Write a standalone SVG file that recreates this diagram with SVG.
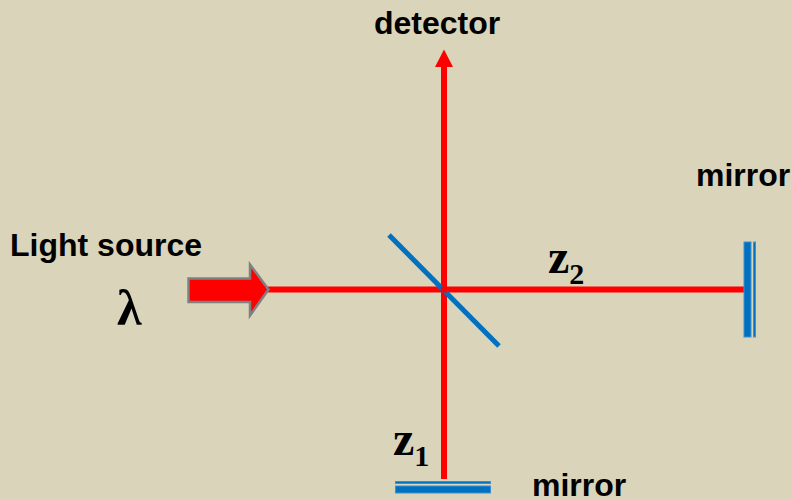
<svg xmlns="http://www.w3.org/2000/svg" width="791" height="499" viewBox="0 0 791 499">
<style>
.lbl{font-family:"Liberation Sans",Arial,sans-serif;font-weight:bold;font-size:32px;fill:#000}
.z{font-family:"Liberation Serif","Times New Roman",serif;font-weight:bold;font-size:48px;fill:#000}
.sub{font-size:30px}
.blue{fill:#0070c0;stroke:#3f8fd0;stroke-width:1}
.ray{stroke:#f00;stroke-width:6;fill:none}
</style>
<rect width="791" height="499" fill="#d9d4ba"/>
<g id="connectors">
<path class="ray" d="M268 289.500H744"/>
<path class="ray" d="M444 479V66"/>
<path d="M444 49.500L453 67H435Z" fill="#f00"/>
</g>
<g id="beam-splitter"><path d="M389 235L499 346" stroke="#0070c0" stroke-width="5" fill="none"/>
<path d="M441 286.500H447V292.500H441Z" fill="#f00"/></g>
<g id="source-arrow"><path d="M188.500 278.500H250V264.500L268.500 289.500L250 315.500V302H188.500Z" fill="#f00" stroke="#808080" stroke-width="2.500"/></g>
<g id="mirror-right"><rect class="blue" x="744" y="242" width="7" height="95"/><rect class="blue" x="753.500" y="242" width="2" height="95"/></g>
<g id="mirror-bottom"><rect class="blue" x="395.500" y="481.500" width="95" height="2"/><rect class="blue" x="395.500" y="486" width="95" height="7"/></g>
<g id="label-detector"><text class="lbl" x="374" y="34">detector</text></g>
<g id="label-mirror-right"><text class="lbl" x="696" y="186">mirror</text></g>
<g id="label-mirror-bottom"><text class="lbl" x="532" y="496">mirror</text></g>
<g id="label-source"><text class="lbl" x="10" y="256">Light source</text></g>
<g id="label-lambda"><text x="117" y="325" font-family="'Liberation Serif','DejaVu Serif',serif" font-size="50" font-weight="bold" fill="#000">λ</text></g>
<g id="label-z2"><text class="z" x="548" y="273">z<tspan class="sub" dy="11">2</tspan></text></g>
<g id="label-z1"><text class="z" x="393" y="455">z<tspan class="sub" dy="11">1</tspan></text></g>
</svg>
